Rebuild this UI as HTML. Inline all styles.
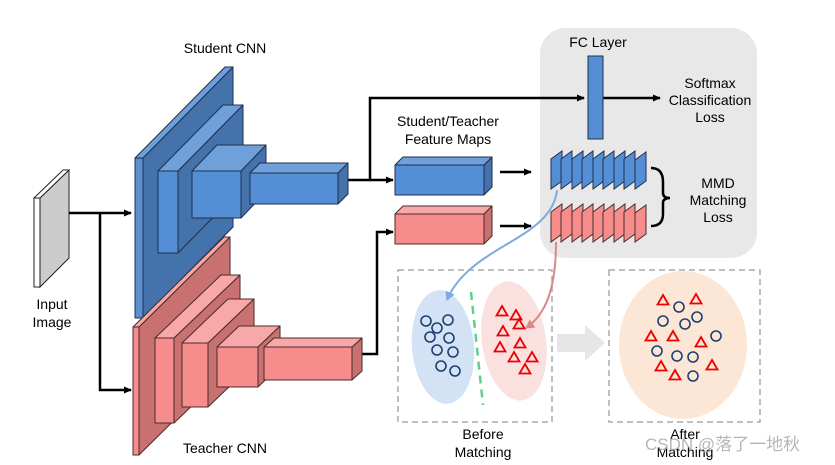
<!DOCTYPE html>
<html><head><style>body{margin:0;background:#fff}svg{display:block}text{font-family:"Liberation Sans","Noto Sans CJK SC",sans-serif;font-size:14px;fill:#000}</style></head><body>
<svg width="835" height="465" viewBox="0 0 835 465" xmlns="http://www.w3.org/2000/svg">
<defs>
<marker id="a" markerWidth="8" markerHeight="8" refX="7" refY="4" orient="auto" markerUnits="userSpaceOnUse"><path d="M0,0.5 L8,4 L0,7.5z" fill="#000"/></marker>
<marker id="ab" markerWidth="10" markerHeight="10" refX="8" refY="5" orient="auto" markerUnits="userSpaceOnUse"><path d="M0,0 L9,5 L0,10z" fill="#7faae0"/></marker>
<marker id="ar" markerWidth="10" markerHeight="10" refX="8" refY="5" orient="auto" markerUnits="userSpaceOnUse"><path d="M0,0 L9,5 L0,10z" fill="#d98888"/></marker>
</defs>
<rect x="540" y="28" width="217" height="230" rx="26" fill="#e8e8e8"/>
<g stroke="#222" stroke-width="1">
<polygon points="40,198 69,170 69,258 40,287" fill="#cccccc"/>
<polygon points="34,198 40,198 69,170 63,170" fill="#fff"/>
<rect x="34" y="198" width="6" height="89" fill="#fff"/>
</g>
<g stroke="#000" stroke-width="2.5" fill="none">
<path d="M69,213 H131" marker-end="url(#a)"/>
<path d="M100,213 V390 H131" marker-end="url(#a)"/>
<path d="M348,180 H370 V98 H584" marker-end="url(#a)"/>
<path d="M370,180 H393" marker-end="url(#a)"/>
<path d="M362,354 H377 V232 H393" marker-end="url(#a)"/>
<path d="M603,98 H660" marker-end="url(#a)"/>
<path d="M500,172 H531" marker-end="url(#a)"/>
<path d="M500,226 H531" marker-end="url(#a)"/>
</g>
<g stroke="#1f2f4f" stroke-width="1" stroke-linejoin="round">
<polygon points="143,158 233,67 233,227 143,318" fill="#4472aa"/>
<polygon points="135,158 143,158 233,67 225,67" fill="#6d9fd8"/>
<rect x="135" y="158" width="8" height="160" fill="#5b8fd0"/>
<polygon points="178,171 243,105 243,187 178,253" fill="#4472aa"/>
<polygon points="158,171 178,171 243,105 223,105" fill="#6fa0d9"/>
<rect x="158" y="171" width="20" height="82" fill="#548fd5"/>
<polygon points="241,171 266,145 266,192 241,218" fill="#4472aa"/>
<polygon points="192,171 241,171 266,145 217,145" fill="#6fa0d9"/>
<rect x="192" y="171" width="49" height="47" fill="#548fd5"/>
<polygon points="338,173 348,163 348,194 338,204" fill="#4472aa"/>
<polygon points="250,173 338,173 348,163 260,163" fill="#6fa0d9"/>
<rect x="250" y="173" width="88" height="31" fill="#548fd5"/>
<polygon points="484,165 492,157 492,187 484,195" fill="#4472aa"/>
<polygon points="395,165 484,165 492,157 403,157" fill="#6fa0d9"/>
<rect x="395" y="165" width="89" height="30" fill="#548fd5"/>
<rect x="588" y="56" width="15" height="83" fill="#548fd5"/>
</g>
<g stroke="#4a2a2a" stroke-width="1" stroke-linejoin="round">
<polygon points="139,327 230,237 230,365 139,455" fill="#c87170"/>
<polygon points="133,327 139,327 230,237 224,237" fill="#f8a8a8"/>
<rect x="133" y="327" width="6" height="128" fill="#f68c8c"/>
<polygon points="174,338 240,275 240,360 174,423" fill="#c87170"/>
<polygon points="155,338 174,338 240,275 221,275" fill="#f8a8a8"/>
<rect x="155" y="338" width="19" height="85" fill="#f68c8c"/>
<polygon points="208,343 254,299 254,363 208,407" fill="#c87170"/>
<polygon points="182,343 208,343 254,299 228,299" fill="#f8a8a8"/>
<rect x="182" y="343" width="26" height="64" fill="#f68c8c"/>
<polygon points="258,347 280,326 280,366 258,387" fill="#c87170"/>
<polygon points="217,347 258,347 280,326 239,326" fill="#f8a8a8"/>
<rect x="217" y="347" width="41" height="40" fill="#f68c8c"/>
<polygon points="352,347 362,338 362,371 352,380" fill="#c87170"/>
<polygon points="264,347 352,347 362,338 274,338" fill="#f8a8a8"/>
<rect x="264" y="347" width="88" height="33" fill="#f68c8c"/>
<polygon points="484,214 492,206 492,236 484,244" fill="#c87170"/>
<polygon points="395,214 484,214 492,206 403,206" fill="#f8a8a8"/>
<rect x="395" y="214" width="89" height="30" fill="#f68c8c"/>
</g>
<g stroke="#1f2f4f" stroke-width="1" fill="#548fd5">
<polygon points="551,159 562,151 562,181 551,189"/><polygon points="561,159 572,151 572,181 561,189"/><polygon points="572,159 583,151 583,181 572,189"/><polygon points="582,159 593,151 593,181 582,189"/><polygon points="593,159 604,151 604,181 593,189"/><polygon points="603,159 614,151 614,181 603,189"/><polygon points="614,159 625,151 625,181 614,189"/><polygon points="624,159 635,151 635,181 624,189"/><polygon points="635,160 646,152 646,181 635,189"/>
</g>
<g stroke="#4a2a2a" stroke-width="1" fill="#f68c8c">
<polygon points="551,212 562,204 562,234 551,242"/><polygon points="561,212 572,204 572,234 561,242"/><polygon points="572,212 583,204 583,234 572,242"/><polygon points="582,212 593,204 593,234 582,242"/><polygon points="593,212 604,204 604,234 593,242"/><polygon points="603,212 614,204 614,234 603,242"/><polygon points="614,212 625,204 625,234 614,242"/><polygon points="624,212 635,204 635,234 624,242"/><polygon points="635,213 646,205 646,234 635,242"/>
</g>
<path d="M651,168 Q663,168 663,182 V193 Q663,198 670,198 Q663,198 663,203 V214 Q663,226 651,226" stroke="#000" stroke-width="2.5" fill="none"/>
<rect x="398" y="270" width="154" height="152" fill="none" stroke="#aaa" stroke-width="1.5" stroke-dasharray="6,4"/>
<rect x="609" y="270" width="151" height="152" fill="none" stroke="#aaa" stroke-width="1.5" stroke-dasharray="6,4"/>
<ellipse cx="443" cy="347" rx="31" ry="57" fill="#d3e2f4" transform="rotate(-5 443 347)"/>
<ellipse cx="514" cy="341" rx="32" ry="60" fill="#fbe0e0" transform="rotate(-8 514 341)"/>
<line x1="471" y1="292" x2="483" y2="405" stroke="#5ed08a" stroke-width="2.5" stroke-dasharray="8,6"/>
<ellipse cx="683" cy="345" rx="64" ry="74" fill="#fce6d5"/>
<path d="M557,334 H585 V325 L605,343 L585,361 V352 H557z" fill="#e6e6e6"/>
<path d="M557,190 C552,240 470,245 447,300" stroke="#7faae0" stroke-width="2" fill="none" marker-end="url(#ab)"/>
<path d="M556,242 C556,290 545,315 526,328" stroke="#d98888" stroke-width="2" fill="none" marker-end="url(#ar)"/>
<g fill="none" stroke="#1f3f73" stroke-width="1.6">
<circle cx="426" cy="321" r="5"/><circle cx="448" cy="320" r="5"/><circle cx="437" cy="328" r="5"/><circle cx="430" cy="337" r="5"/><circle cx="449" cy="338" r="5"/><circle cx="437" cy="350" r="5"/><circle cx="453" cy="352" r="5"/><circle cx="441" cy="366" r="5"/><circle cx="455" cy="371" r="5"/>
<circle cx="679" cy="307" r="5"/><circle cx="663" cy="321" r="5"/><circle cx="685" cy="324" r="5"/><circle cx="697" cy="317" r="5"/><circle cx="716" cy="336" r="5"/><circle cx="657" cy="351" r="5"/><circle cx="677" cy="356" r="5"/><circle cx="693" cy="357" r="5"/><circle cx="693" cy="376" r="5"/>
</g>
<g fill="none" stroke="#e00" stroke-width="1.8">
<path d="M0,-5 L5.5,4.5 L-5.5,4.5z" transform="translate(502,311)"/>
<path d="M0,-5 L5.5,4.5 L-5.5,4.5z" transform="translate(516,315)"/><path d="M0,-5 L5.5,4.5 L-5.5,4.5z" transform="translate(503,331)"/><path d="M0,-5 L5.5,4.5 L-5.5,4.5z" transform="translate(519,324)"/><path d="M0,-5 L5.5,4.5 L-5.5,4.5z" transform="translate(500,347)"/><path d="M0,-5 L5.5,4.5 L-5.5,4.5z" transform="translate(520,343)"/><path d="M0,-5 L5.5,4.5 L-5.5,4.5z" transform="translate(514,357)"/><path d="M0,-5 L5.5,4.5 L-5.5,4.5z" transform="translate(532,357)"/><path d="M0,-5 L5.5,4.5 L-5.5,4.5z" transform="translate(525,369)"/>
<path d="M0,-5 L5.5,4.5 L-5.5,4.5z" transform="translate(663,300)"/><path d="M0,-5 L5.5,4.5 L-5.5,4.5z" transform="translate(696,299)"/><path d="M0,-5 L5.5,4.5 L-5.5,4.5z" transform="translate(651,336)"/><path d="M0,-5 L5.5,4.5 L-5.5,4.5z" transform="translate(673,336)"/><path d="M0,-5 L5.5,4.5 L-5.5,4.5z" transform="translate(701,342)"/><path d="M0,-5 L5.5,4.5 L-5.5,4.5z" transform="translate(661,366)"/><path d="M0,-5 L5.5,4.5 L-5.5,4.5z" transform="translate(675,375)"/><path d="M0,-5 L5.5,4.5 L-5.5,4.5z" transform="translate(712,365)"/>
</g>
<g text-anchor="middle">
<text x="225" y="53">Student CNN</text>
<text x="225" y="453">Teacher CNN</text>
<text x="52" y="309">Input</text><text x="52" y="327">Image</text>
<text x="448" y="126">Student/Teacher</text><text x="448" y="144">Feature Maps</text>
<text x="598" y="47">FC Layer</text>
<text x="710" y="88">Softmax</text><text x="710" y="105">Classification</text><text x="710" y="122">Loss</text>
<text x="718" y="188">MMD</text><text x="718" y="205">Matching</text><text x="718" y="222">Loss</text>
<text x="483" y="439">Before</text><text x="483" y="457">Matching</text>
<text x="685" y="439">After</text><text x="685" y="457">Matching</text>
</g>
<text x="645" y="450" style="font-size:17px;fill:#aaa;opacity:0.85">CSDN @落了一地秋</text>
</svg>
</body></html>
